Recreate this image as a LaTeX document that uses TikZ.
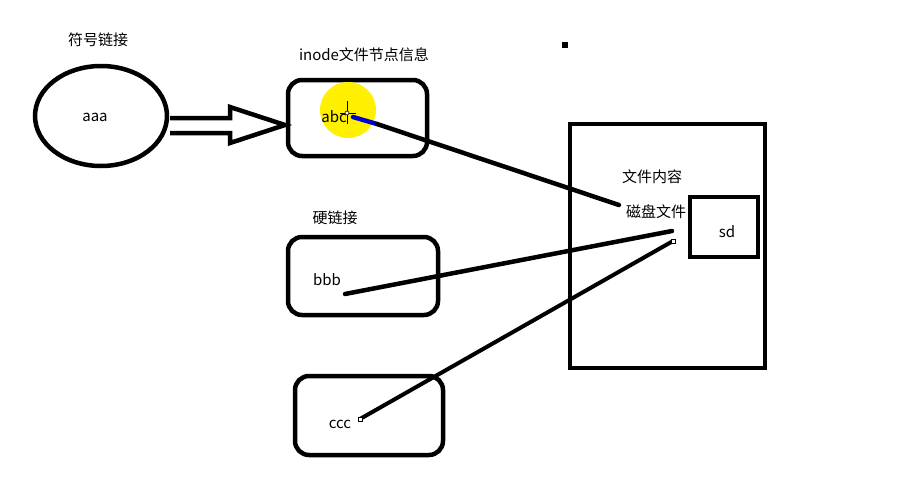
\documentclass[tikz,border=0pt]{standalone}
\usepackage{fontspec}
\setmainfont{Noto Sans CJK SC}
\usetikzlibrary{calc}
\begin{document}
\begin{tikzpicture}[x=1pt,y=-1pt,
  thick line/.style={line width=4.5pt,line cap=round},
  rbox/.style={draw,line width=4.5pt,rounded corners=14pt},
  sbox/.style={draw,line width=4.5pt},
  lbl/.style={font=\fontsize{15}{17}\selectfont,inner sep=0pt},
  every node/.style={font=\fontsize{15}{17}\selectfont}]
\useasboundingbox[fill=white] (0,0) rectangle (902,490);
% symbolic link ellipse
\draw[line width=4.5pt] (101,116) ellipse [x radius=66,y radius=50];
\node[lbl] (symlbl) at (98,40) {符号链接};
\node[lbl] (aaa) at (95,117) {aaa};
% hollow arrow
\draw[line width=4.5pt,line join=miter,fill=white]
  (170,118) -- (230,118) -- (230,107) -- (285,125) -- (230,143) -- (230,133) -- (170,133);
% inode box
\draw[rbox] (288,80) rectangle (427,156);
\node[lbl] (inodelbl) at (364,55) {inode文件节点信息};
\fill[yellow!90!orange!20!yellow] (348,110) circle [radius=28];
\node[lbl] (abc) at (334,117) {abc};
\draw[line width=0.6pt] (347,101) -- (347,124) (340,113) -- (356,113);
\draw[line width=0.6pt,fill=white] (347,113) circle [radius=2];
\coordinate (abcend) at (353,117);
\coordinate (bluend) at (377,124);
\draw[line width=4.5pt,blue!80!black,line cap=round] (abcend) -- (bluend);
% big box
\draw[sbox] (570,124) rectangle (765,368);
\node[lbl] (content) at (652,177) {文件内容};
\node[lbl] (disk) at (656,212) {磁盘文件};
\draw[sbox] (690,197) rectangle (758,257);
\node[lbl] (sd) at (727,232) {sd};
\coordinate (diskin) at (619,205);
\draw[thick line] (bluend) -- (diskin);
% hard links
\node[lbl] (hardlbl) at (335,218) {硬链接};
\draw[rbox] (288,237) rectangle (438,315);
\node[lbl] (bbb) at (327,280) {bbb};
\coordinate (bbbend) at (345,294);
\coordinate (diskb) at (672,231);
\draw[thick line] (bbbend) -- (diskb);
\draw[rbox] (295,376) rectangle (443,455);
\node[lbl] (ccc) at (340,424) {ccc};
\coordinate (cccend) at (360,419);
\coordinate (diskc) at (673,241);
\draw[line width=4pt] (cccend) -- (diskc);
\draw[line width=0.6pt,fill=white] ($(cccend)+(-2,-2)$) rectangle ($(cccend)+(2,2)$);
\draw[line width=0.6pt,fill=white] ($(diskc)+(-2,-2)$) rectangle ($(diskc)+(2,2)$);
% stray dot
\fill (562,42) rectangle (568,48);
\end{tikzpicture}
\end{document}
